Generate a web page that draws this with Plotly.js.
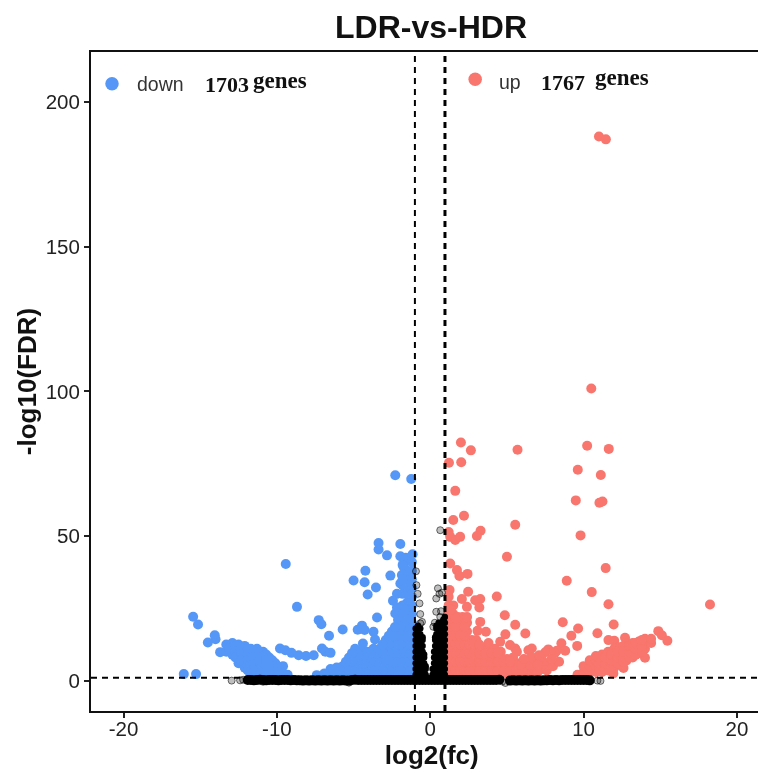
<!DOCTYPE html>
<html><head><meta charset="utf-8">
<script src="https://cdn.plot.ly/plotly-3.0.0.min.js"></script>
<style>html,body{margin:0;padding:0;background:#fff}#c{width:758px;height:774px;filter:blur(0.45px)}</style>
</head><body><div id="c"></div>
<script>
const downScattered=[[-15.46,22.1],[-15.14,19.4],[-14.05,15.7],[-14,14.3],[-14.5,13.2],[-13.7,9.85],[-16.07,2.25],[-15.27,2.25],[-9.42,40.3],[-8.69,25.5],[-7.27,20.9],[-7.1,19.5],[-6.6,15.5],[-5.71,17.7],[-3.37,47.6],[-3.37,45.3],[-1.95,47.2],[-2.82,43.3],[-1.95,43],[-1.6,42.5],[-1.35,41.4],[-1.15,43.7],[-4.23,38],[-5,34.6],[-4.28,34],[-3.54,32.2],[-4.08,29.8],[-2.6,36.3],[-3.47,21.8],[-4.73,17.6],[-4.45,19],[-4.28,17.5],[-3.7,16.9],[-3.6,14.2],[-4.39,12.8],[-9.8,11.1],[-9.45,10.5],[-9.05,9.6],[-8.58,8.8],[-8.1,8.5],[-7.6,8.8],[-7.06,11.1],[-6.84,10],[-6.5,9.6],[-9.6,5],[-7.4,1.9],[-2.28,71],[-1.24,69.7],[-1.74,39.3],[-1.85,36.5],[-1.95,33.6],[-2.17,30],[-2.43,27.6],[-2.17,25.3],[-2.28,23.2]];
const downNearCloud=[[-1.2,2],[-1.2,5],[-1.2,8],[-1.2,11],[-1.2,14],[-1.2,17],[-1.2,20],[-1.2,23],[-1.2,26],[-1.2,29],[-1.2,32],[-1.2,35],[-1.2,38],[-1.2,41],[-1.5,2],[-1.5,5],[-1.5,8],[-1.5,11],[-1.5,14],[-1.5,17],[-1.5,20],[-1.5,23],[-1.5,27],[-1.5,30],[-1.5,33],[-1.5,36],[-1.5,38],[-1.8,2],[-1.8,5],[-1.8,8],[-1.8,11],[-1.8,14],[-1.8,17],[-1.8,20],[-1.8,23],[-1.8,26],[-1.8,30],[-1.8,33],[-1.8,35],[-1.8,40],[-2.1,2],[-2.1,5],[-2.1,8],[-2.1,11],[-2.1,14],[-2.1,17],[-2.1,21],[-2.5,2],[-2.5,5],[-2.5,8],[-2.5,11],[-2.5,14],[-2.5,17],[-2.9,2],[-2.9,5],[-2.9,8],[-2.9,11],[-2.9,14],[-3.3,2],[-3.3,5],[-3.3,8],[-3.3,11],[-3.7,2],[-3.7,5],[-3.7,8],[-3.7,11],[-4.1,2],[-4.1,4.5],[-4.1,7.5],[-4.1,10],[-4.5,2],[-4.5,4.5],[-4.5,7.5],[-4.5,10],[-4.9,2],[-4.9,5],[-4.9,8],[-4.9,11],[-5.3,2.5],[-5.3,5],[-5.3,8],[-5.7,2.5],[-5.7,5],[-6.1,2.5],[-6.1,4.5],[-6.5,2.5],[-6.5,4],[-6.9,2.5]];
const downNearFill=[[-1.35,3.5],[-1.35,6.5],[-1.35,9.5],[-1.35,12.5],[-1.35,15.5],[-1.35,18.5],[-1.35,21.5],[-1.35,24.5],[-1.65,3.5],[-1.65,6.5],[-1.65,9.5],[-1.65,12.5],[-1.65,15.5],[-1.65,18.5],[-1.65,21.5],[-1.65,24.5],[-1.95,3.5],[-1.95,6.5],[-1.95,9.5],[-1.95,12.5],[-1.95,15.5],[-1.95,18.5],[-2.3,3.5],[-2.3,6.5],[-2.3,9.5],[-2.3,12.5],[-2.3,15.5],[-2.3,18.5],[-2.7,3.5],[-2.7,6.5],[-2.7,9.5],[-2.7,12.5],[-2.7,15.5],[-3.1,3.5],[-3.1,6.5],[-3.1,9.5],[-3.1,12.5],[-3.5,3.5],[-3.5,6.5],[-3.5,9.5],[-3.9,3.5],[-3.9,6.5],[-3.9,9.5],[-4.3,3.2],[-4.3,6],[-4.3,9],[-4.7,3.2],[-4.7,6],[-4.7,9],[-5.1,3.5],[-5.1,6.5],[-5.1,9.5],[-5.5,3.8],[-5.5,6.5],[-5.9,3.5],[-6.3,3.5]];
const downFarCloud=[[-13.3,12.5],[-13.3,10],[-12.9,13],[-12.9,11],[-12.9,9],[-12.5,12.5],[-12.5,10],[-12.5,8],[-12.5,6],[-12.1,12],[-12.1,10],[-12.1,8],[-12.1,6],[-12.1,4.5],[-11.7,11],[-11.7,9],[-11.7,7],[-11.7,5],[-11.7,3],[-11.3,11],[-11.3,9],[-11.3,7],[-11.3,5],[-11.3,3],[-10.9,10],[-10.9,8],[-10.9,6],[-10.9,4],[-10.9,2.5],[-10.5,8],[-10.5,6],[-10.5,4],[-10.5,2.5],[-10.1,6],[-10.1,4],[-10.1,2.5],[-9.7,3],[-9.7,2.2],[-9.3,2]];
const downFarFill=[[-13.1,11],[-12.7,12],[-12.7,10],[-12.7,8],[-12.3,11],[-12.3,9],[-12.3,7],[-11.9,11],[-11.9,9],[-11.9,7],[-11.9,5],[-11.9,3.5],[-11.5,10],[-11.5,8],[-11.5,6],[-11.5,4],[-11.1,10],[-11.1,8],[-11.1,6],[-11.1,4],[-10.7,9],[-10.7,7],[-10.7,5],[-10.7,3],[-10.3,7],[-10.3,5],[-10.3,3],[-9.9,4],[-9.9,3]];
const upScattered=[[11,188.1],[11.45,187.1],[10.5,101],[2,82.3],[2.65,79.6],[5.69,79.8],[10.23,81.2],[11.64,80.1],[1.22,75.3],[2.02,75.5],[9.62,72.9],[11.12,71.1],[1.63,65.6],[9.49,62.3],[11.03,61.5],[11.23,61.9],[2.2,57],[1.5,55.5],[5.54,53.9],[3.28,51.8],[3.04,50],[9.8,50.2],[1.2,51.4],[1.3,49.7],[1.63,48.6],[1.95,49.7],[5,42.8],[1.3,40.5],[1.74,38.2],[1.9,36.2],[2.43,36.9],[11.44,38.9],[8.9,34.5],[1.26,31.3],[2.47,30.7],[2.06,28.2],[3.26,28.2],[2.93,27.8],[2.39,25.5],[3.2,25.3],[4.34,29.1],[10.53,30.6],[11.62,26.4],[18.24,26.3],[4.86,22.6],[5.54,19.3],[6.2,16.3],[8.64,20.2],[9.64,18],[9.2,15.5],[8.55,12.9],[9.58,12],[10.9,16.4],[11.96,19.4],[11.62,14],[12,13.8],[12.7,14.8],[14.87,17.1],[15.1,15.7],[15.46,13.8],[14,7.9],[12.6,4.4],[11.94,2.5],[4.9,16],[3.26,20.3],[3.08,17.2],[3.63,16.9],[4.56,13.4],[5.2,12.3],[5.54,11.1],[5.65,10],[6.62,11.1],[6.4,10.5],[7.7,10.8],[7.5,9.8],[6.95,8],[6.84,6.5],[8.25,10.3],[8.8,10.3],[8.1,9.4]];
const upNearCloud=[[1.2,2],[1.2,5],[1.2,8],[1.2,11],[1.2,14],[1.2,17],[1.2,20],[1.2,23],[1.2,26],[1.2,29],[1.5,2],[1.5,5],[1.5,8],[1.5,11],[1.5,14],[1.5,17],[1.5,20],[1.5,23],[1.5,26],[1.8,2],[1.8,5],[1.8,8],[1.8,11],[1.8,14],[1.8,17],[1.8,20],[1.8,22],[2.1,2],[2.1,5],[2.1,8],[2.1,11],[2.1,14],[2.1,17],[2.1,20],[2.1,22],[2.4,2],[2.4,5],[2.4,8],[2.4,11],[2.4,14],[2.4,17],[2.4,20],[2.4,22],[2.7,2],[2.7,5],[2.7,8],[2.7,11],[2.7,14],[3,2],[3,5],[3,8],[3,11],[3,14],[3.4,2],[3.4,5],[3.4,8],[3.4,11],[3.8,2],[3.8,5],[3.8,8],[3.8,11],[3.8,13],[4.2,2],[4.2,5],[4.2,8],[4.2,11],[4.6,2],[4.6,5],[4.6,8],[4.6,10],[5,2.5],[5,5],[5,7.5],[5.4,2.5],[5.4,5],[5.4,8],[5.8,2.5],[5.8,4.5],[5.8,6],[6.3,2.5],[6.3,4],[6.3,6.5],[6.8,2.5],[6.8,4],[7.3,4],[7.3,7],[7.7,6]];
const upNearFill=[[1.35,3.5],[1.35,6.5],[1.35,9.5],[1.35,12.5],[1.35,15.5],[1.35,18.5],[1.35,21.5],[1.35,24.5],[1.65,3.5],[1.65,6.5],[1.65,9.5],[1.65,12.5],[1.65,15.5],[1.65,18.5],[1.65,21.5],[1.95,3.5],[1.95,6.5],[1.95,9.5],[1.95,12.5],[1.95,15.5],[2.25,3.5],[2.25,6.5],[2.25,9.5],[2.25,12.5],[2.25,15.5],[2.25,18.5],[2.55,3.5],[2.55,6.5],[2.55,9.5],[2.55,12.5],[2.85,3.5],[2.85,6.5],[2.85,9.5],[2.85,12.5],[3.2,3.5],[3.2,6.5],[3.2,9.5],[3.2,12.5],[3.6,3.5],[3.6,6.5],[3.6,9.5],[4,3.5],[4,6.5],[4,9.5],[4.4,3.5],[4.4,6.5],[4.4,9.5],[4.8,3.5],[4.8,6.5],[5.2,3.5],[5.2,6.5],[5.6,3.5],[6,3.5],[5.9,5.5],[6.5,5.5],[7,3],[7.6,3.5],[8,5],[8.4,6.5],[7,5.5],[6.6,8],[7.1,8.8],[6.1,7.5],[7.9,7.5]];
const upFarCloud=[[9.6,2],[10,3],[10,5],[10.4,3],[10.4,5],[10.4,7],[10.8,3],[10.8,5],[10.8,7],[10.8,8.5],[11.2,3],[11.2,5],[11.2,7],[11.2,9],[11.6,3.5],[11.6,5.5],[11.6,7.5],[11.6,10],[12,4.5],[12,6.5],[12,8.5],[12,11],[12.4,5.5],[12.4,7.5],[12.4,9.5],[12.4,11.5],[12.8,7],[12.8,9],[12.8,11],[12.8,13],[13.2,8],[13.2,10],[13.2,12],[13.2,13],[13.6,9.5],[13.6,11.5],[13.6,13.5],[14,11],[14,13],[14,14.5],[14.4,13],[14.4,14.5]];
const upFarFill=[[11,4],[11,6],[11,8],[11.4,4],[11.4,6],[11.4,8],[11.8,5],[11.8,7],[11.8,9],[12.2,6],[12.2,8],[12.2,10],[12.6,6.5],[12.6,8],[12.6,10],[12.6,12],[13,8],[13,10],[13,12],[13.4,9],[13.4,11],[13.4,13],[13.8,10],[13.8,12],[13.8,14]];
const stableBand=[[-11.9,0.2],[-11.5,0.1],[-11.1,0.3],[-10.7,0.1],[-10.3,0.2],[-9.9,0.1],[-9.5,0.2],[-9.1,0.1],[-8.7,0.1],[-8.3,0],[-7.9,0],[-7.5,0],[-7.1,0],[-6.7,0],[-6.3,0],[-5.9,0],[-5.5,0],[-5.3,0],[-4.9,0.3],[-4.5,0.2],[-4.1,0.2],[-3.7,0.2],[-3.3,0.2],[-2.9,0.2],[-2.5,0.2],[-2.1,0.2],[-1.7,0.2],[-1.3,0.2],[-0.9,0.2],[-0.5,0.2],[-0.1,0.2],[0.3,0.2],[0.7,0.2],[1.1,0.2],[1.5,0.2],[1.9,0.2],[2.3,0.2],[2.7,0.2],[3.1,0.2],[3.5,0.2],[3.9,0.2],[4.3,0.2],[4.5,0.3],[5.2,0],[5.6,0],[6,0],[6.4,0],[6.8,0],[7.2,0],[7.6,0.1],[8,0.1],[8.4,0.1],[8.8,0.2],[9.2,0.2],[9.6,0.2],[10,0.2],[10.4,0.1]];
const stableBandFill=[[-11.7,0.2],[-11.3,0.2],[-10.9,0.2],[-10.5,0.2],[-10.1,0.2],[-9.7,0.2],[-9.3,0.2],[-8.9,0.2],[-8.5,0.1],[-8.1,0.1],[-7.7,0.1],[-7.3,0.1],[-6.9,0.1],[-6.5,0.1],[-6.1,0.1],[-5.7,0.1],[-5.1,0.2],[-4.7,0.2],[-4.3,0.2],[-3.9,0.2],[-3.5,0.2],[-3.1,0.2],[-2.7,0.2],[-2.3,0.2],[-1.9,0.2],[-1.5,0.2],[-1.1,0.2],[-0.7,0.2],[-0.3,0.2],[0.1,0.2],[0.5,0.2],[0.9,0.2],[1.3,0.2],[1.7,0.2],[2.1,0.2],[2.5,0.2],[2.9,0.2],[3.3,0.2],[3.7,0.2],[4.1,0.2],[5.4,0.1],[5.8,0.1],[6.2,0.1],[6.6,0.1],[7,0.1],[7.4,0.1],[7.8,0.2],[8.2,0.2],[8.6,0.2],[9,0.2],[9.4,0.2],[9.8,0.2],[10.2,0.2]];
const stableSpikes=[[-0.95,2],[-0.95,4],[-0.95,6],[-0.95,8],[-0.95,10],[-0.95,12],[-0.95,14],[-0.95,16],[-0.95,18],[-0.8,2],[-0.8,4],[-0.8,6],[-0.8,8],[-0.8,10],[-0.8,12],[-0.8,14],[-0.8,16],[-0.8,18],[-0.8,19],[-0.65,2],[-0.65,4],[-0.65,6],[-0.65,8],[-0.65,10],[-0.65,12],[-0.65,14],[-0.65,16],[-0.65,18],[-0.5,2],[-0.5,4],[-0.5,6],[-0.5,8],[-0.5,10],[-0.5,12],[-0.5,14],[-0.5,15],[-0.4,2],[-0.4,4],[-0.4,6],[-0.4,8],[-0.4,9],[-0.3,2],[-0.3,4],[-0.3,5],[0.15,2],[0.15,4],[0.25,2],[0.25,4],[0.25,6],[0.25,8],[0.25,10],[0.32,2],[0.32,4],[0.32,6],[0.32,8],[0.32,10],[0.32,12],[0.32,14],[0.32,15],[0.4,2],[0.4,4],[0.4,6],[0.4,8],[0.4,10],[0.4,12],[0.4,14],[0.4,16],[0.4,18],[0.4,19],[0.55,2],[0.55,4],[0.55,6],[0.55,8],[0.55,10],[0.55,12],[0.55,14],[0.55,16],[0.55,18],[0.55,20],[0.7,2],[0.7,4],[0.7,6],[0.7,8],[0.7,10],[0.7,12],[0.7,14],[0.7,16],[0.7,18],[0.7,20],[0.85,2],[0.85,4],[0.85,6],[0.85,8],[0.85,10],[0.85,12],[0.85,14],[0.85,16],[0.85,18],[0.85,20],[0.85,21],[0.95,2],[0.95,4],[0.95,6],[0.95,8],[0.95,10],[0.95,12],[0.95,14],[0.95,16],[0.95,18],[0.95,20],[0.95,22]];
const stableFaint=[[-12.95,0],[-12.4,0.1],[-12.2,0.3],[-10.9,-0.4],[-5.3,-0.7],[4.9,-0.8],[4.7,-0.3],[10.9,0],[11.1,-0.1],[-0.93,37.8],[-0.9,33],[-0.82,30],[-0.7,26.7],[-0.65,23],[-0.54,20.3],[-0.65,19.8],[0.5,31.9],[0.76,30.4],[0.39,28.4],[0.6,30],[0.39,23.8],[0.65,22],[0.2,18.6],[0.65,52],[0.3,20],[0.7,24]];
const xTicks=[-20,-10,0,10,20];
const xTickText=["-20","-10","0","10","20"];
const yTicks=[0,50,100,150,200];
const downColor="#5597f7", upColor="#f8766d";
const legendDown=[[-20.75,206.3]], legendUp=[[2.93,207.9]];

const xs=a=>a.map(p=>p[0]), ys=a=>a.map(p=>p[1]);
const down=[...downScattered,...downNearCloud,...downNearFill,...downFarCloud,...downFarFill];
const up=[...upScattered,...upNearCloud,...upNearFill,...upFarCloud,...upFarFill];
const dot=(name,a,color,size)=>({name,x:xs(a),y:ys(a),type:"scatter",mode:"markers",marker:{color,size}});
const traces=[
 dot("down",down,downColor,10),
 dot("up",up,upColor,10),
 dot("down key",legendDown,downColor,13.5),
 dot("up key",legendUp,upColor,13.5),
 dot("stable",[...stableBand,...stableBandFill],"#000",10),
 dot("stable",stableSpikes,"#000",6.5),
 {name:"stable",x:xs(stableFaint),y:ys(stableFaint),type:"scatter",mode:"markers",marker:{color:"rgba(0,0,0,0.25)",size:7,line:{color:"rgba(0,0,0,0.55)",width:1}}}
];
const note=(text,x,y,font)=>({text,x,y,xref:"x",yref:"y",xanchor:"left",yanchor:"middle",showarrow:false,font});
const sans={family:"Liberation Sans",size:19.5,color:"#333"};
const serifN={family:"Liberation Serif",size:22,color:"#111",weight:"bold"};
const serifG={family:"Liberation Serif",size:23,color:"#111",weight:"bold"};
const vline=(x,w)=>({type:"line",xref:"x",yref:"paper",x0:x,x1:x,y0:0,y1:1,line:{color:"#000",width:w,dash:"6px,5px"}});
const layout={
 width:758,height:774,showlegend:false,paper_bgcolor:"#fff",plot_bgcolor:"#fff",
 margin:{l:90.5,r:0,t:52,b:63},
 font:{family:"Liberation Sans",color:"#111"},
 title:{text:"<b>LDR-vs-HDR</b>",font:{family:"Liberation Sans",size:32,color:"#111"},x:431/758,xanchor:"center",y:0.965,yanchor:"middle"},
 xaxis:{range:[-22.12,21.37],tickvals:xTicks,ticktext:xTickText,ticks:"outside",ticklen:5,tickwidth:2,tickcolor:"#222",showgrid:false,zeroline:false,showline:true,mirror:true,linewidth:2,linecolor:"#111",tickfont:{size:20.5,color:"#222"},ticklabelstandoff:-7,
  title:{text:"<b>&nbsp;&nbsp;log2(fc)</b>",font:{size:26,color:"#111"},standoff:4}},
 yaxis:{range:[-10.5,217.3],tickvals:yTicks,ticks:"outside",ticklen:5,tickwidth:2,tickcolor:"#222",showgrid:false,zeroline:false,showline:true,linewidth:2,linecolor:"#111",tickfont:{size:20.5,color:"#222"},
  title:{text:"<b>-log10(FDR)</b>",font:{size:26,color:"#111"},standoff:2}},
 shapes:[vline(-1,2),vline(0.96,3),{type:"line",xref:"paper",yref:"y",x0:0,x1:1,y0:1,y1:1,line:{color:"#000",width:2,dash:"6px,5px"}}],
 annotations:[
  note("down",-19.22,206.2,sans),note("1703",-14.85,206.2,serifN),note("genes",-11.66,207.6,serifG),
  note("up",4.37,206.9,sans),note("1767",7.1,206.9,serifN),note("genes",10.62,208.6,serifG)
 ]
};
Plotly.newPlot("c",traces,layout,{displayModeBar:false,responsive:false});
</script></body></html>
